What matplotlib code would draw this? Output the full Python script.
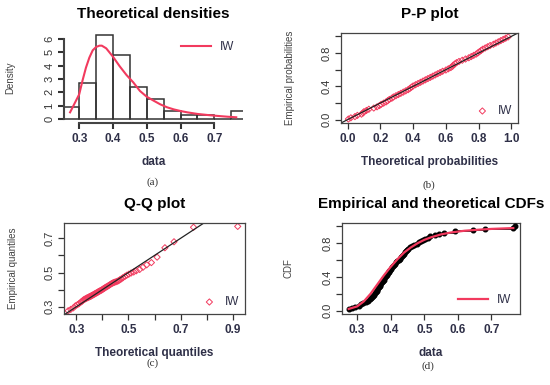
import numpy as np
import matplotlib
matplotlib.use("Agg")
import matplotlib.pyplot as plt

plt.rcParams['font.family'] = ['Liberation Sans', 'DejaVu Sans']

# histogram of the sample (bin edges and density heights)
bin_left = [0.25, 0.30, 0.35, 0.40, 0.45, 0.50, 0.55, 0.60, 0.65, 0.70, 0.75]
bin_height = [0.90, 2.69, 6.27, 4.78, 2.39, 1.49, 0.60, 0.30, 0.30, 0.0, 0.60]

# fitted inverse Weibull density
dens_x = [0.273, 0.285, 0.30, 0.31, 0.32, 0.33, 0.34, 0.35, 0.36, 0.367, 0.38,
          0.40, 0.42, 0.44, 0.46, 0.48, 0.50, 0.52, 0.54, 0.56, 0.58, 0.60,
          0.62, 0.65, 0.68, 0.71, 0.74, 0.765]
dens_y = [0.50, 1.10, 1.85, 2.90, 3.85, 4.60, 5.15, 5.40, 5.50, 5.50, 5.30,
          4.67, 3.95, 3.30, 2.75, 2.10, 1.67, 1.38, 1.10, 0.88, 0.72, 0.60,
          0.50, 0.38, 0.30, 0.23, 0.17, 0.13]

# fitted inverse Weibull CDF
cdf_x = [0.275, 0.30, 0.32, 0.34, 0.36, 0.38, 0.40, 0.42, 0.44, 0.46, 0.48,
         0.50, 0.52, 0.55, 0.58, 0.62, 0.66, 0.70, 0.765]
cdf_y = [0.02, 0.05, 0.11, 0.20, 0.31, 0.42, 0.52, 0.61, 0.69, 0.75, 0.80,
         0.84, 0.87, 0.905, 0.928, 0.948, 0.96, 0.97, 0.98]

# sorted sample
sample = [0.276, 0.284, 0.293,
          0.305, 0.312, 0.318, 0.326, 0.331, 0.337, 0.342, 0.345, 0.348,
          0.351, 0.353, 0.356, 0.358, 0.360, 0.362, 0.365, 0.367, 0.369, 0.372,
          0.374, 0.377, 0.379, 0.381, 0.384, 0.386, 0.389, 0.391, 0.394, 0.396, 0.399,
          0.402, 0.405, 0.408, 0.411, 0.414, 0.417, 0.420, 0.424, 0.427, 0.431,
          0.435, 0.438, 0.441, 0.443, 0.446, 0.449,
          0.452, 0.458, 0.463, 0.470, 0.477, 0.484, 0.490, 0.497,
          0.503, 0.510, 0.518, 0.531, 0.545,
          0.558, 0.590, 0.645, 0.680, 0.765, 0.770]

# theoretical probabilities of the sample (P-P plot)
pp_theo = [0.005, 0.02, 0.045, 0.06, 0.085, 0.095, 0.10, 0.115, 0.13, 0.16, 0.18, 0.195,
           0.205, 0.22, 0.235, 0.245, 0.255, 0.27, 0.28, 0.295, 0.31, 0.325, 0.34, 0.355,
           0.37, 0.38, 0.39, 0.40, 0.415, 0.43, 0.445, 0.46, 0.475, 0.49, 0.505, 0.52,
           0.535, 0.55, 0.565, 0.58, 0.60, 0.615, 0.63, 0.64, 0.645, 0.655, 0.665, 0.68,
           0.70, 0.72, 0.74, 0.755, 0.77, 0.785, 0.795, 0.805, 0.815, 0.825, 0.84, 0.855,
           0.87, 0.89, 0.905, 0.92, 0.935, 0.95, 0.965, 0.98]

# theoretical quantiles (Q-Q plot)
qq_theo = [0.268, 0.278, 0.288, 0.296, 0.304, 0.310, 0.316, 0.321, 0.325, 0.329, 0.333,
           0.337, 0.340, 0.344, 0.347, 0.350, 0.353, 0.356, 0.358, 0.361, 0.364, 0.367,
           0.370, 0.372, 0.375, 0.378, 0.381, 0.383, 0.386, 0.389, 0.392, 0.395, 0.398,
           0.401, 0.404, 0.407, 0.410, 0.413, 0.417, 0.420, 0.424, 0.427, 0.431, 0.435,
           0.439, 0.443, 0.447, 0.452, 0.457, 0.462, 0.467, 0.473, 0.479, 0.486, 0.493,
           0.501, 0.510, 0.520, 0.530, 0.543, 0.556, 0.570, 0.588, 0.610, 0.640, 0.675,
           0.750, 0.920]

n = len(sample)
pp_emp = (np.arange(1, n + 1) - 0.5) / n
ecdf = np.arange(1, n + 1) / n

red = '#f23a5e'
txt = '#2f3048'
W, H = 550, 385


def box(x0, y0, x1, y1):
    return [x0 / W, 1 - y1 / H, (x1 - x0) / W, (y1 - y0) / H]


def r_style(ax, xt, xl, yt, yl):
    ax.set_xticks(xt)
    ax.set_xticklabels(xl, fontsize=8.5, fontweight='bold', color=txt)
    ax.set_yticks(yt)
    ax.set_yticklabels(yl, fontsize=8, color='#333333', rotation=90, va='center')
    ax.tick_params(length=4, width=0.9, color='#333333', pad=3)
    for s in ax.spines.values():
        s.set_color('#444444')
        s.set_linewidth(0.9)


fig = plt.figure(figsize=(5.5, 3.85), dpi=100)

# (a) theoretical densities
ax = fig.add_axes(box(64, 33, 243, 123))
widths = [0.05] * len(bin_left)
ax.bar(bin_left, bin_height, width=widths, align='edge', fill=False,
       edgecolor='#333333', linewidth=1.1)
ax.plot(dens_x, dens_y, color=red, lw=1.5, label='IW')
ax.set_xlim(0.255, 0.785)
ax.set_ylim(-0.3, 6.45)
r_style(ax, [0.3, 0.4, 0.5, 0.6, 0.7], ['0.3', '0.4', '0.5', '0.6', '0.7'],
        range(7), [str(i) for i in range(7)])
ax.spines['top'].set_visible(False)
ax.spines['right'].set_visible(False)
ax.spines['left'].set_bounds(0, 6)
ax.spines['bottom'].set_bounds(0.3, 0.7)
ax.spines['left'].set_linewidth(1.5)
ax.spines['bottom'].set_linewidth(1.5)
ax.tick_params(width=1.5)
ax.set_title('Theoretical densities', fontsize=11, fontweight='bold', pad=11)
ax.set_xlabel('data', fontsize=8.5, fontweight='bold', color=txt, labelpad=8)
ax.set_ylabel('Density', fontsize=7, color='#444444', labelpad=21)
ax.legend(loc='upper right', frameon=False, fontsize=8.5, handlelength=2.5,
          borderaxespad=0.3, labelcolor=txt)

# (b) P-P plot
ax = fig.add_axes(box(341, 33, 518, 123))
ax.axline((0, 0), slope=1, color='#222222', lw=0.9)
ax.scatter(pp_theo, pp_emp, marker='D', s=10, facecolors='none', edgecolors=red,
           linewidths=0.7, label='IW')
ax.set_xlim(-0.04, 1.04)
ax.set_ylim(-0.04, 1.04)
r_style(ax, [0, 0.2, 0.4, 0.6, 0.8, 1.0], ['0.0', '0.2', '0.4', '0.6', '0.8', '1.0'],
        [0, 0.2, 0.4, 0.6, 0.8, 1.0], ['0.0', '', '0.4', '', '0.8', ''])
ax.set_title('P-P plot', fontsize=11, fontweight='bold', pad=11)
ax.set_xlabel('Theoretical probabilities', fontsize=8.5, fontweight='bold', color=txt, labelpad=8)
ax.set_ylabel('Empirical probabilities', fontsize=7, color='#444444', labelpad=19)
ax.legend(loc='lower right', frameon=False, fontsize=8.5, handletextpad=0.3,
          borderaxespad=0.1, labelcolor=txt)

# (c) Q-Q plot
ax = fig.add_axes(box(64, 223, 245, 314))
ax.axline((0.3, 0.3), slope=1, color='#222222', lw=0.9)
ax.scatter(qq_theo, sample, marker='D', s=10, facecolors='none', edgecolors=red,
           linewidths=0.7, label='IW')
ax.set_xlim(0.252, 0.948)
ax.set_ylim(0.257, 0.79)
r_style(ax, [0.3, 0.4, 0.5, 0.6, 0.7, 0.8, 0.9], ['0.3', '', '0.5', '', '0.7', '', '0.9'],
        [0.3, 0.4, 0.5, 0.6, 0.7], ['0.3', '', '0.5', '', '0.7'])
ax.set_title('Q-Q plot', fontsize=11, fontweight='bold', pad=11)
ax.set_xlabel('Theoretical quantiles', fontsize=8.5, fontweight='bold', color=txt, labelpad=8)
ax.set_ylabel('Empirical quantiles', fontsize=7, color='#444444', labelpad=19)
ax.legend(loc='lower right', frameon=False, fontsize=8.5, handletextpad=0.3,
          borderaxespad=0.1, labelcolor=txt)

# (d) empirical and theoretical CDFs
ax = fig.add_axes(box(342, 223, 520, 314))
ax.step(sample, ecdf, where='post', color='black', lw=1.2)
ax.scatter(sample, ecdf, s=11, color='black', zorder=3)
ax.plot(cdf_x, cdf_y, color=red, lw=1.6, label='IW', zorder=4)
ax.set_xlim(0.255, 0.785)
ax.set_ylim(-0.04, 1.04)
r_style(ax, [0.3, 0.4, 0.5, 0.6, 0.7], ['0.3', '0.4', '0.5', '0.6', '0.7'],
        [0, 0.2, 0.4, 0.6, 0.8, 1.0], ['0.0', '', '0.4', '', '0.8', ''])
ax.set_title('Empirical and theoretical CDFs', fontsize=11, fontweight='bold', pad=11)
ax.set_xlabel('data', fontsize=8.5, fontweight='bold', color=txt, labelpad=8)
ax.set_ylabel('CDF', fontsize=7, color='#444444', labelpad=21)
ax.legend(loc='lower right', frameon=False, fontsize=8.5, handlelength=2.5,
          borderaxespad=0.3, labelcolor=txt)

# sub-captions
for label, x, y in [('(a)', 153, 182), ('(b)', 429, 185), ('(c)', 153, 363), ('(d)', 428, 366)]:
    fig.text(x / W, 1 - y / H, label, ha='center', va='center', fontsize=8,
             family='Liberation Serif', color='#333333')

fig.savefig('out.png', dpi=100)
